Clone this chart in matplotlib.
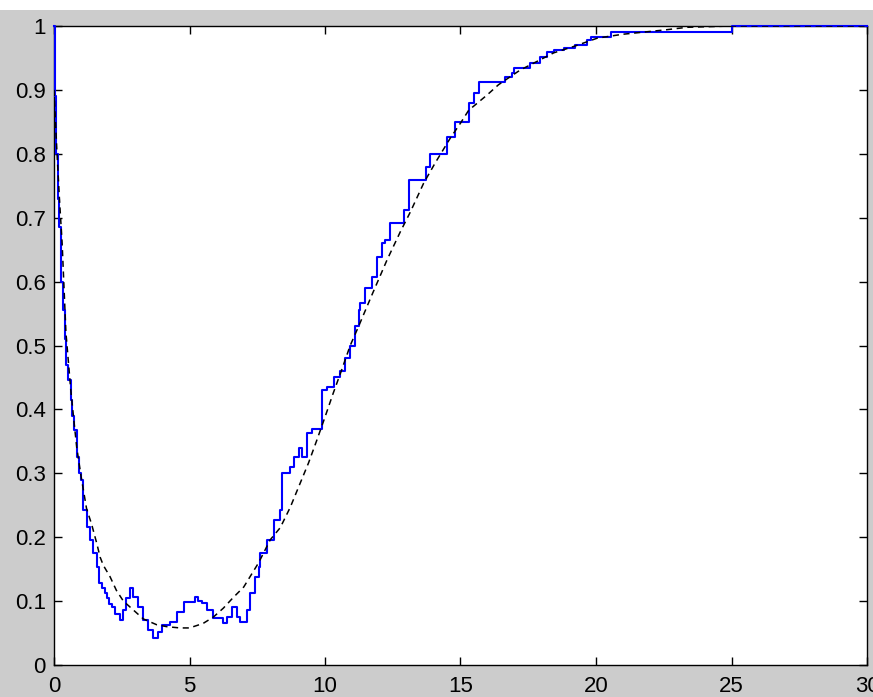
import matplotlib
matplotlib.use("Agg")
import matplotlib.pyplot as plt
from matplotlib.patches import Rectangle

emp_x = [0.0, 0.03, 0.08, 0.15, 0.2, 0.26, 0.33, 0.39, 0.45, 0.53, 0.62, 0.68,
         0.74, 0.84, 0.92, 0.99, 1.08, 1.21, 1.33, 1.45, 1.58, 1.67, 1.76, 1.87,
         1.95, 2.04, 2.13, 2.25, 2.44, 2.56, 2.66, 2.8, 2.93, 3.1, 3.3, 3.48,
         3.67, 3.85, 3.98, 4.28, 4.53, 4.78, 5.22, 5.3, 5.45, 5.64, 5.88, 6.25,
         6.38, 6.56, 6.75, 6.87, 7.12, 7.24, 7.42, 7.55, 7.61, 7.86, 8.1, 8.35,
         8.41, 8.72, 8.84, 9.03, 9.15, 9.34, 9.52, 9.9, 10.07, 10.32, 10.56,
         10.75, 10.93, 11.12, 11.24, 11.3, 11.49, 11.74, 11.92, 12.1, 12.23,
         12.41, 12.91, 13.1, 13.71, 13.89, 14.5, 14.81, 15.3, 15.49, 15.67,
         16.66, 16.9, 16.97, 17.58, 17.95, 18.2, 18.44, 18.81, 19.24, 19.67,
         19.8, 20.54, 25.0, 30.0]
emp_y = [1.0, 0.89, 0.80, 0.73, 0.685, 0.60, 0.555, 0.51, 0.47, 0.446, 0.415, 0.39,
         0.368, 0.325, 0.30, 0.29, 0.243, 0.216, 0.196, 0.175, 0.153, 0.128, 0.12, 0.112,
         0.105, 0.095, 0.09, 0.08, 0.07, 0.086, 0.105, 0.12, 0.107, 0.09, 0.07, 0.055,
         0.042, 0.052, 0.062, 0.067, 0.083, 0.099, 0.106, 0.1, 0.097, 0.086, 0.073, 0.066,
         0.075, 0.091, 0.075, 0.067, 0.086, 0.113, 0.138, 0.153, 0.175, 0.196, 0.227, 0.243,
         0.30, 0.31, 0.325, 0.34, 0.325, 0.363, 0.37, 0.43, 0.435, 0.45, 0.46,
         0.48, 0.50, 0.53, 0.555, 0.567, 0.59, 0.607, 0.638, 0.66, 0.665,
         0.692, 0.712, 0.759, 0.779, 0.80, 0.826, 0.85, 0.879, 0.895, 0.912,
         0.92, 0.926, 0.934, 0.942, 0.951, 0.96, 0.962, 0.965, 0.97, 0.978,
         0.983, 0.991, 1.0, 1.0]

# fitted smooth curve (dashed)
fit_x = [0.0, 0.1, 0.2, 0.3, 0.44, 0.62, 0.74, 0.84, 1.0, 1.2, 1.39, 1.58, 1.7,
         1.82, 2.07, 2.3, 2.56, 2.93, 3.3, 3.79, 4.16, 4.65, 5.0, 5.5, 5.88, 6.25,
         6.6, 7.0, 7.55, 7.98, 8.35, 8.72, 9.03, 9.39, 9.7, 10.0, 10.3, 10.6,
         10.93, 11.24, 11.74, 12.29, 12.78, 13.15, 13.64, 14.07, 14.63, 15.0,
         15.3, 15.98, 16.4, 16.78, 17.2, 18.44, 19.18, 20.05, 20.97, 22.57,
         23.37, 25.0, 30.0]
fit_y = [0.9, 0.81, 0.73, 0.66, 0.52, 0.43, 0.38, 0.34, 0.295, 0.245, 0.22, 0.19, 0.169,
         0.156, 0.138, 0.117, 0.1, 0.086, 0.072, 0.063, 0.06, 0.058, 0.058, 0.065, 0.075, 0.089,
         0.105, 0.122, 0.16, 0.196, 0.215, 0.247, 0.279, 0.316, 0.352, 0.388, 0.425, 0.46,
         0.50, 0.53, 0.58, 0.634, 0.678, 0.709, 0.754, 0.786, 0.825, 0.848,
         0.868, 0.892, 0.908, 0.919, 0.931, 0.958, 0.968, 0.981, 0.987, 0.994,
         0.998, 1.0, 1.0]

x_ticks = [0, 5, 10, 15, 20, 25, 30]
y_ticks = [0, 0.1, 0.2, 0.3, 0.4, 0.5, 0.6, 0.7, 0.8, 0.9, 1]
y_labels = ["0", "0.1", "0.2", "0.3", "0.4", "0.5", "0.6", "0.7", "0.8", "0.9", "1"]

plt.rcParams['font.family'] = ['Liberation Sans', 'DejaVu Sans']

fig = plt.figure(figsize=(8.73, 6.97), dpi=100, facecolor="#cccccc")
# white strip along the top of the screenshot
fig.patches.append(Rectangle((0, 1 - 10 / 697), 1, 10 / 697, transform=fig.transFigure,
                             facecolor="white", edgecolor="none", zorder=0))

ax = fig.add_axes([54 / 873, 1 - 665 / 697, (867 - 54) / 873, (665 - 26) / 697])
ax.set_facecolor("white")

# blue drawn over the frame, like the matlab figure
ax.plot(emp_x, emp_y, color="#0000ff", lw=1.5, drawstyle="steps-post",
        zorder=2.6, clip_on=False)
ax.plot(fit_x, fit_y, color="black", lw=1.1, linestyle=(0, (4, 3)), zorder=2.7)

ax.set_xlim(0, 30)
ax.set_ylim(0, 1)
ax.set_xticks(x_ticks)
ax.set_yticks(y_ticks)
ax.set_yticklabels(y_labels)
ax.tick_params(direction="in", length=6, width=1, top=True, right=True,
               labelsize=16, colors="black")
ax.tick_params(axis="x", pad=8)
ax.tick_params(axis="y", pad=6)
for s in ax.spines.values():
    s.set_linewidth(1.0)
    s.set_color("black")

fig.savefig("out.png", dpi=100, facecolor=fig.get_facecolor())
